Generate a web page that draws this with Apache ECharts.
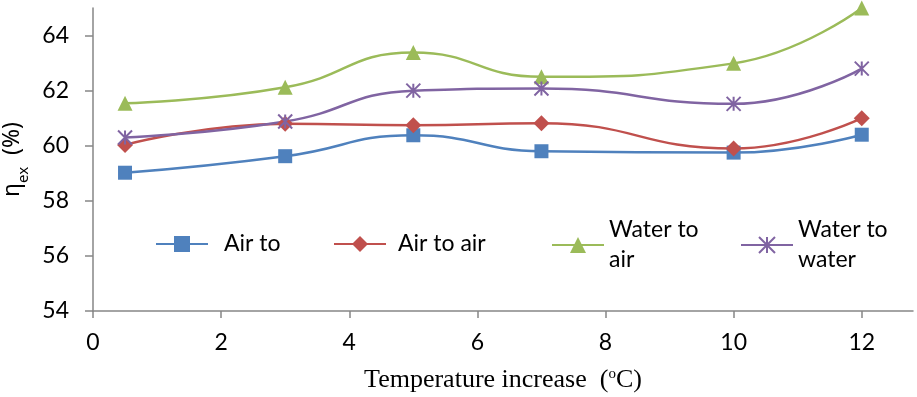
<!DOCTYPE html>
<html><head><meta charset="utf-8">
<script src="https://cdn.jsdelivr.net/npm/echarts@6/dist/echarts.min.js"></script>
<style>html,body{margin:0;padding:0;background:#fff}#c{width:917px;height:397px}</style>
</head><body><div id="c"></div>
<script>
const xValues = [0.5, 3, 5, 7, 10, 12];
const airTo = [59.02, 59.62, 60.38, 59.8, 59.75, 60.4];
const airToAir = [60.03, 60.8, 60.74, 60.82, 59.9, 61.0];
const waterToAir = [61.54, 62.12, 63.38, 62.5, 62.99, 65.0];
const waterToWater = [60.3, 60.88, 62.0, 62.08, 61.52, 62.8];
const xTicks = [0, 2, 4, 6, 8, 10, 12];
const yTicks = [54, 56, 58, 60, 62, 64];
const names = ['Air to', 'Air to air', 'Water to\nair', 'Water to\nwater'];

const pair = v => v.map((y, i) => [xValues[i], y]);
const chart = echarts.init(document.getElementById('c'), null, {renderer: 'canvas'});
const axisColor = '#868686';
const lab = {fontFamily: 'Lato', fontSize: 23, color: '#000'};
const star = 'path://M0,-5 L0,5 M-5,-5 L5,5 M-5,5 L5,-5';
function mk(name, data, color, symbol, size, extra) {
  return Object.assign({
    name, type: 'line', data: pair(data), smooth: 0.5,
    symbol, symbolSize: size, showSymbol: true,
    lineStyle: {color, width: 2.5},
    itemStyle: {color, borderColor: color, borderWidth: 0},
    emphasis: {disabled: true}, z: 3
  }, extra || {});
}
function leg(name, left, top, pad) {
  return {
    data: [name], left, top, padding: 0, itemWidth: 52, itemHeight: 20,
    textStyle: {fontFamily: 'Lato', fontSize: 23, color: '#000', lineHeight: 30, padding: [0, 0, 0, pad]},
    selectedMode: false
  };
}
chart.setOption({
  animation: false,
  grid: {left: 93, right: 4, top: 8, bottom: 86, containLabel: false, outerBoundsMode: 'none'},
  legend: [
    leg(names[0], 155, 229, 11),
    leg(names[1], 333, 229, 7),
    leg(names[2], 551, 215, 0),
    leg(names[3], 740, 215, 0)
  ],
  xAxis: {
    type: 'value', min: 0, max: 12.8, interval: 2,
    name: 'Temperature increase  ({s|o}C)', nameLocation: 'middle', nameGap: 56,
    nameTextStyle: {fontFamily: 'Liberation Serif', fontSize: 26, color: '#000',
      rich: {s: {fontFamily: 'Liberation Serif', fontSize: 15, verticalAlign: 'top', padding: [0, 0, 10, 0]}}},
    axisLine: {show: true, onZero: false, lineStyle: {color: axisColor, width: 1.5}},
    axisTick: {show: true, length: 7, customValues: xTicks, lineStyle: {color: axisColor, width: 1.5}},
    axisLabel: Object.assign({margin: 20, customValues: xTicks}, lab),
    splitLine: {show: false}
  },
  yAxis: {
    type: 'value', min: 54, max: 65, interval: 2,
    name: '{a|η}{b|ex}{a|  (%)}', nameLocation: 'middle', nameGap: 64, nameRotate: 90,
    nameTextStyle: {rich: {
      a: {fontFamily: 'Noto Sans', fontSize: 23, color: '#000', lineHeight: 30},
      b: {fontFamily: 'Noto Sans', fontSize: 15, color: '#000', verticalAlign: 'bottom', lineHeight: 30, padding: [0, 0, -4, 0]}
    }},
    axisLine: {show: true, lineStyle: {color: axisColor, width: 1.5}},
    axisTick: {show: true, length: 8, customValues: yTicks, lineStyle: {color: axisColor, width: 1.5}},
    axisLabel: Object.assign({margin: 24, customValues: yTicks}, lab),
    splitLine: {show: false}
  },
  series: [
    mk(names[0], airTo, '#4F81BD', 'rect', 14),
    mk(names[1], airToAir, '#C0504D', 'diamond', 16),
    mk(names[2], waterToAir, '#9BBB59', 'triangle', 15),
    mk(names[3], waterToWater, '#8064A2', star, 14, {itemStyle: {color: '#8064A2', borderColor: '#8064A2', borderWidth: 2}})
  ]
});
</script></body></html>
